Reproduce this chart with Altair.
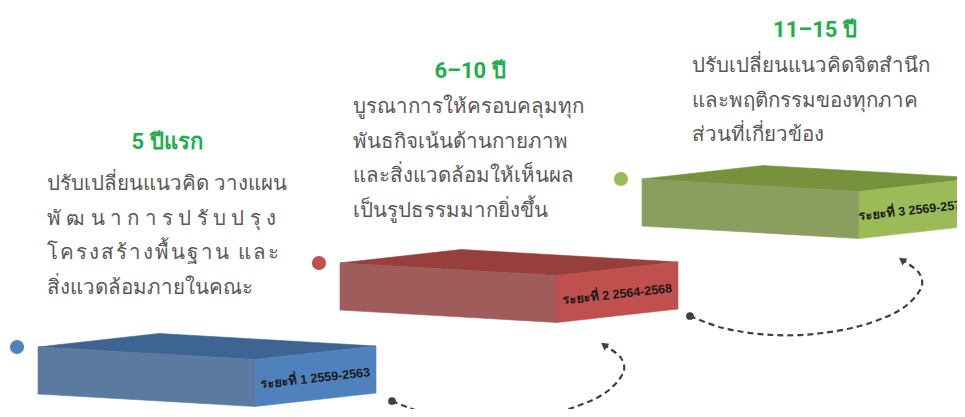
import math
import altair as alt
import pandas as pd

# ---------------- content ----------------
headings = ["5 ปีแรก", "6–10 ปี", "11–15 ปี"]
periods = ["ระยะที่ 1 2559-2563", "ระยะที่ 2 2564-2568", "ระยะที่ 3 2569-2573"]
body_lines = [
    ["ปรับเปลี่ยนแนวคิด วางแผน", "พัฒนา การปรับปรุง", "โครงสร้างพื้นฐาน และ", "สิ่งแวดล้อมภายในคณะ"],
    ["บูรณาการให้ครอบคลุมทุก", "พันธกิจเน้นด้านกายภาพ", "และสิ่งแวดล้อมให้เห็นผล", "เป็นรูปธรรมมากยิ่งขึ้น"],
    ["ปรับเปลี่ยนแนวคิดจิตสำนึก", "และพฤติกรรมของทุกภาค", "ส่วนที่เกี่ยวข้อง"],
]
# letter spacing used for the distributed-justified lines ("" = none)
spread_gaps = [["", " ", "\u200a", ""], [""] * 4, [""] * 3]

# ---------------- colours ----------------
top_colors = ["#3e6494", "#963f3d", "#77923c"]
front_colors = ["#5a7aa0", "#a05c5a", "#8a9e60"]
side_colors = ["#4f81bd", "#c0504d", "#9bbb59"]
heading_color = "#1fae4b"
body_color = "#595959"
connector_color = "#404040"

# ---------------- layout (reference pixel space) ----------------
block_x = [38, 340, 642]
block_y = [347, 263, 179]
FRONT_W, DEPTH_X, DEPTH_Y, SLOPE_Y, THICK = 217, 121, -13.5, 12.5, 47
dot_x = [17, 319, 621]
dot_y = [347, 263, 179]
heading_x = [167, 470, 815]
heading_y = [149, 78, 37]
body_x = [47, 353, 692]
body_y = [190, 113, 72]
LINE_H = 34.5
label_dx = [0, 0, -6]  # small nudge so the last label stays readable at the page edge

conn_x = [[392, 425, 475, 525, 575, 609, 624, 621, 606],
          [690, 723, 773, 823, 873, 907, 922, 919, 904]]
conn_y = [[401, 413, 420, 418, 407, 390, 370, 358, 346],
          [316, 328, 335, 333, 322, 305, 285, 273, 261]]
tip_x = [604, 902]
tip_y = [345, 260]

W, H = 949, 401
xs = alt.Scale(domain=[8, 957], range=[0, W])
ys = alt.Scale(domain=[8, 409], range=[0, H])

THAI_MARKS = set(chr(c) for c in [0x0E31] + list(range(0x0E34, 0x0E3B)) + list(range(0x0E47, 0x0E4F)))


def spread(s, gap):
    if not gap:
        return s
    clusters = []
    for ch in s:
        if ch in THAI_MARKS and clusters:
            clusters[-1] += ch
        else:
            clusters.append(ch)
    return gap.join(clusters)


# ---------------- faces ----------------
face_rows = []
for i in range(3):
    x0, y0 = block_x[i], block_y[i]
    pts = [
        (x0, y0, y0),
        (x0 + DEPTH_X, y0 + DEPTH_Y, y0 + SLOPE_Y * DEPTH_X / FRONT_W),
        (x0 + FRONT_W, y0 + DEPTH_Y + SLOPE_Y * (FRONT_W - DEPTH_X) / FRONT_W, y0 + SLOPE_Y),
        (x0 + FRONT_W + DEPTH_X, y0 + SLOPE_Y + DEPTH_Y, y0 + SLOPE_Y + DEPTH_Y),
    ]
    for px, py, py2 in pts:
        face_rows.append(dict(face=f"t{i}", x=px, y=py, y2=py2, col=top_colors[i]))
    face_rows.append(dict(face=f"f{i}", x=x0, y=y0, y2=y0 + THICK, col=front_colors[i]))
    face_rows.append(dict(face=f"f{i}", x=x0 + FRONT_W, y=y0 + SLOPE_Y, y2=y0 + SLOPE_Y + THICK, col=front_colors[i]))
    face_rows.append(dict(face=f"s{i}", x=x0 + FRONT_W, y=y0 + SLOPE_Y, y2=y0 + SLOPE_Y + THICK, col=side_colors[i]))
    face_rows.append(dict(face=f"s{i}", x=x0 + FRONT_W + DEPTH_X, y=y0 + SLOPE_Y + DEPTH_Y,
                          y2=y0 + SLOPE_Y + DEPTH_Y + THICK, col=side_colors[i]))
faces = pd.DataFrame(face_rows)

face_layers = []
for fid in faces["face"].unique():
    d = faces[faces["face"] == fid]
    c = d["col"].iloc[0]
    face_layers.append(
        alt.Chart(d).mark_area(interpolate="linear", orient="vertical", color=c,
                               stroke=c, strokeWidth=0.6, opacity=1).encode(
            x=alt.X("x:Q", scale=xs, axis=None),
            y=alt.Y("y:Q", scale=ys, axis=None),
            y2="y2:Q",
        )
    )

# ---------------- period labels ----------------
angle = (math.degrees(math.atan2(DEPTH_Y, DEPTH_X)) + 360) % 360
lab = pd.DataFrame(dict(
    x=[block_x[i] + FRONT_W + DEPTH_X / 2 + label_dx[i] for i in range(3)],
    y=[block_y[i] + SLOPE_Y + DEPTH_Y / 2 + THICK / 2 + 2 for i in range(3)],
    t=periods,
))
labels = alt.Chart(lab).mark_text(
    font="Liberation Sans, Arial, sans-serif",
    fontWeight="bold", fontSize=12.5,
    color="#1a1a1a", angle=angle, align="center", baseline="middle"
).encode(x=alt.X("x:Q", scale=xs), y=alt.Y("y:Q", scale=ys), text="t:N")

# ---------------- dots ----------------
dots = alt.Chart(pd.DataFrame(dict(x=dot_x, y=dot_y, c=side_colors))).mark_point(
    filled=True, shape="circle", size=200, opacity=1
).encode(x=alt.X("x:Q", scale=xs), y=alt.Y("y:Q", scale=ys), color=alt.Color("c:N", scale=None))

# ---------------- headings & body ----------------
head = alt.Chart(pd.DataFrame(dict(x=heading_x, y=heading_y, t=headings))).mark_text(
    font="Roboto, sans-serif", fontWeight="bold", fontSize=22, color=heading_color,
    align="center", baseline="alphabetic"
).encode(x=alt.X("x:Q", scale=xs), y=alt.Y("y:Q", scale=ys), text="t:N")

brows = []
for i in range(3):
    for j, line in enumerate(body_lines[i]):
        brows.append(dict(x=body_x[i], y=body_y[i] + j * LINE_H, t=spread(line, spread_gaps[i][j])))
body = alt.Chart(pd.DataFrame(brows)).mark_text(
    font="Noto Sans, sans-serif", fontSize=20.5, color=body_color,
    align="left", baseline="alphabetic"
).encode(x=alt.X("x:Q", scale=xs), y=alt.Y("y:Q", scale=ys), text="t:N")

# ---------------- connectors ----------------
crows = []
for a in range(2):
    for k, (cx, cy) in enumerate(zip(conn_x[a], conn_y[a])):
        crows.append(dict(a=a, k=k, x=cx, y=cy))
cdf = pd.DataFrame(crows)
conn = alt.Chart(cdf).mark_line(
    interpolate="catmull-rom", color=connector_color, strokeWidth=2.2, strokeDash=[6, 4]
).encode(x=alt.X("x:Q", scale=xs), y=alt.Y("y:Q", scale=ys), detail="a:N", order="k:Q")

start = alt.Chart(pd.DataFrame(dict(x=[conn_x[0][0], conn_x[1][0]], y=[conn_y[0][0], conn_y[1][0]]))).mark_point(
    filled=True, shape="circle", size=60, color=connector_color, opacity=1
).encode(x=alt.X("x:Q", scale=xs), y=alt.Y("y:Q", scale=ys))

heads = alt.Chart(pd.DataFrame(dict(x=tip_x, y=tip_y))).mark_point(
    filled=True, shape="triangle-up", size=70, color=connector_color, opacity=1, angle=306
).encode(x=alt.X("x:Q", scale=xs), y=alt.Y("y:Q", scale=ys))

chart = alt.layer(*face_layers, labels, dots, head, body, conn, start, heads).properties(
    width=W, height=H, padding=0, autosize="none"
).configure_view(stroke=None)

chart.save("out.html", embed_options={"renderer": "svg", "actions": False})
